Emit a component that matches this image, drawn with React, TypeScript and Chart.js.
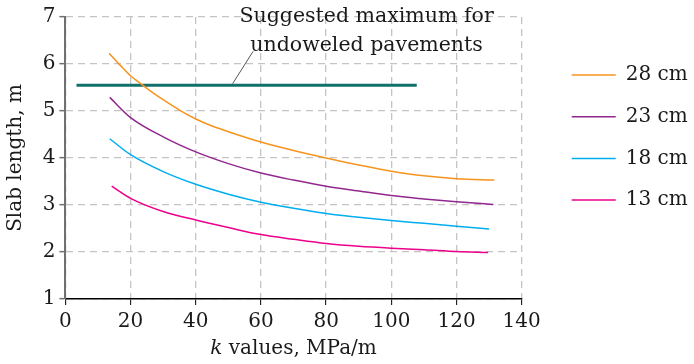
import React, { useEffect, useRef } from 'react';
import { Chart, registerables } from 'chart.js';
Chart.register(...registerables);

const FONT = '"DejaVu Serif", serif';
const FS = 20;

const seriesLabels = ['28 cm', '23 cm', '18 cm', '13 cm'];
const seriesColors = ['#f7941d', '#92278f', '#00aeef', '#ec008c'];

const k28 = [13.4, 17, 20, 23.7, 27, 30, 35, 40, 45, 50, 60, 70, 80, 90, 100, 110, 120, 131.6];
const len28 = [6.23, 5.96, 5.75, 5.55, 5.38, 5.24, 5.02, 4.83, 4.68, 4.56, 4.34, 4.16, 4.0, 3.85, 3.72, 3.62, 3.56, 3.53];
const k23 = [13.6, 20, 30, 40, 50, 60, 70, 80, 90, 100, 110, 120, 131.3];
const len23 = [5.29, 4.86, 4.45, 4.13, 3.88, 3.68, 3.53, 3.4, 3.3, 3.2, 3.13, 3.07, 3.01];
const k18 = [13.6, 20, 30, 40, 50, 60, 70, 80, 90, 100, 110, 120, 130];
const len18 = [4.41, 4.07, 3.71, 3.44, 3.23, 3.06, 2.93, 2.82, 2.74, 2.67, 2.61, 2.55, 2.49];
const k13 = [14.2, 20, 30, 40, 50, 60, 70, 80, 90, 100, 110, 120, 129.7];
const len13 = [3.4, 3.14, 2.86, 2.68, 2.52, 2.37, 2.27, 2.18, 2.12, 2.08, 2.05, 2.01, 1.99];

const limitK = [3.4, 107.8];
const limitLen = [5.55, 5.55];
const limitColor = '#11706c';

const noteLines = ['Suggested maximum for', 'undoweled pavements'];
const xTitleItalic = 'k';
const xTitleRest = ' values, MPa/m';
const yTitle = 'Slab length, m';

const xMin = 0, xMax = 140, xStep = 20;
const yMin = 1, yMax = 7, yStep = 1;

const seriesK = [k28, k23, k18, k13];
const seriesLen = [len28, len23, len18, len13];

const overlay = {
  id: 'overlay',
  afterDraw(chart: any) {
    const { ctx, chartArea, scales } = chart;
    const xs = scales.x, ys = scales.y;
    ctx.save();
    // leader line
    ctx.strokeStyle = '#555';
    ctx.lineWidth = 1;
    ctx.beginPath();
    ctx.moveTo(xs.getPixelForValue(51.3), ys.getPixelForValue(5.58));
    ctx.lineTo(xs.getPixelForValue(57.6), ys.getPixelForValue(6.27));
    ctx.stroke();
    // note text
    ctx.fillStyle = '#1a1a1a';
    ctx.font = `20.5px ${FONT}`;
    ctx.textAlign = 'center';
    ctx.textBaseline = 'middle';
    const nx = xs.getPixelForValue(92.4);
    ctx.fillText(noteLines[0], nx, ys.getPixelForValue(7.0));
    ctx.fillText(noteLines[1], nx, ys.getPixelForValue(6.39));
    // legend
    ctx.font = `${FS}px ${FONT}`;
    const lx = chartArea.right + 50;
    let ly = 75;
    chart.data.datasets.forEach((ds: any) => {
      if (!ds.label) return;
      ctx.strokeStyle = ds.borderColor;
      ctx.lineWidth = 1.5;
      ctx.beginPath();
      ctx.moveTo(lx, ly);
      ctx.lineTo(lx + 44, ly);
      ctx.stroke();
      ctx.textAlign = 'left';
      ctx.fillStyle = '#1a1a1a';
      ctx.fillText(ds.label, lx + 54, ly);
      ly += 41.7;
    });
    // x title
    const cx = (chartArea.left + chartArea.right) / 2;
    ctx.font = `italic ${FS}px ${FONT}`;
    const w1 = ctx.measureText(xTitleItalic).width;
    ctx.font = `${FS}px ${FONT}`;
    const w2 = ctx.measureText(xTitleRest).width;
    const startX = cx - (w1 + w2) / 2;
    ctx.textAlign = 'left';
    ctx.font = `italic ${FS}px ${FONT}`;
    ctx.fillText(xTitleItalic, startX, 349);
    ctx.font = `${FS}px ${FONT}`;
    ctx.fillText(xTitleRest, startX + w1, 349);
    // y title
    ctx.translate(16, (chartArea.top + chartArea.bottom) / 2);
    ctx.rotate(-Math.PI / 2);
    ctx.textAlign = 'center';
    ctx.fillText(yTitle, 0, 0);
    ctx.restore();
  },
};

export default function App() {
  const ref = useRef<HTMLCanvasElement>(null);
  useEffect(() => {
    if (!ref.current) return;
    const datasets: any[] = seriesLabels.map((label, i) => ({
      label,
      data: seriesK[i].map((k, j) => ({ x: k, y: seriesLen[i][j] })),
      borderColor: seriesColors[i],
      borderWidth: 1.5,
      pointRadius: 0,
      cubicInterpolationMode: 'monotone',
      fill: false,
    }));
    datasets.push({
      label: '',
      data: limitK.map((k, j) => ({ x: k, y: limitLen[j] })),
      borderColor: limitColor,
      borderWidth: 3,
      pointRadius: 0,
      fill: false,
    });
    const chart = new Chart(ref.current, {
      type: 'line',
      data: { datasets },
      options: {
        animation: false,
        responsive: false,
        devicePixelRatio: 1,
        layout: { padding: { top: 17, right: 172.3, left: 0, bottom: 0 } },
        plugins: { legend: { display: false }, tooltip: { enabled: false } },
        scales: {
          x: {
            type: 'linear',
            min: xMin,
            max: xMax,
            afterFit: (s: any) => { s.height = 65; },
            ticks: { stepSize: xStep, color: '#1a1a1a', font: { family: FONT, size: FS }, padding: 5, maxRotation: 0 },
            grid: { color: '#c4c4c4', lineWidth: 1.3, tickLength: 6, tickColor: '#000', tickWidth: 1 },
            border: { color: '#000', width: 1.5, dash: [7, 5] },
          },
          y: {
            type: 'linear',
            min: yMin,
            max: yMax,
            afterFit: (s: any) => { s.width = 65.4; },
            ticks: { stepSize: yStep, color: '#1a1a1a', font: { family: FONT, size: FS }, padding: 4 },
            grid: { color: '#c4c4c4', lineWidth: 1.3, tickLength: 6, tickColor: '#707070', tickWidth: 1.5 },
            border: { color: '#707070', width: 2, dash: [7, 5] },
          },
        },
      },
      plugins: [overlay],
    });
    return () => chart.destroy();
  }, []);
  return (
    <div style={{ position: 'fixed', left: 0, top: 0, width: 694, height: 364, background: '#fff' }}>
      <canvas ref={ref} width={694} height={364} style={{ width: 694, height: 364 }} />
    </div>
  );
}
